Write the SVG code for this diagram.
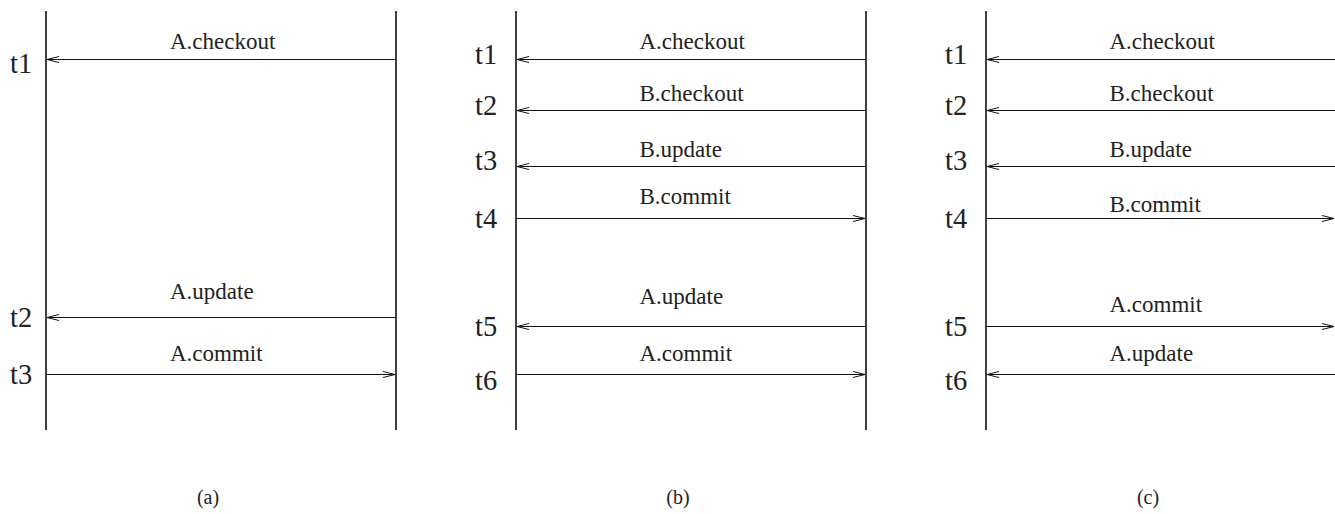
<svg xmlns="http://www.w3.org/2000/svg" width="1335" height="514" viewBox="0 0 1335 514" font-family="'Liberation Serif', 'DejaVu Serif', serif">
  <style>
    .life { stroke: #111; stroke-width: 1.6; fill: none; }
    .msg { stroke: #111; stroke-width: 1.1; fill: none; marker-end: url(#head); }
    text { font-family: "Liberation Serif", "DejaVu Serif", serif; fill: #222; }
    .lbl { font-size: 23px; }
    .time { font-size: 28.5px; }
    .cap { font-size: 20px; text-anchor: middle; }
  </style>
  <defs>
    <marker id="head" markerUnits="userSpaceOnUse" markerWidth="14" markerHeight="8" viewBox="-13 -4 14 8" refX="0" refY="0" orient="auto" overflow="visible">
      <path d="M-12,-3 L0,0 L-12,3" fill="none" stroke="#111" stroke-width="1"/>
    </marker>
  </defs>

  <rect width="1335" height="514" fill="#fff"/>

  <!-- panel (a) -->
  <g id="panel-a">
    <g id="a-client"><line class="life" x1="46" y1="11" x2="46" y2="430"/></g>
    <g id="a-server"><line class="life" x1="396" y1="11" x2="396" y2="430"/></g>
    <g id="a-times">
      <text class="time" x="10" y="72.5">t1</text>
      <text class="time" x="10" y="327">t2</text>
      <text class="time" x="10" y="384">t3</text>
    </g>
    <g id="a-connectors">
      <line class="msg" x1="396" y1="59.5" x2="47" y2="59.5"/>
      <line class="msg" x1="396" y1="317.5" x2="47" y2="317.5"/>
      <line class="msg" x1="46" y1="374.5" x2="395" y2="374.5"/>
    </g>
    <g id="a-labels">
      <text class="lbl" x="170" y="49">A.checkout</text>
      <text class="lbl" x="170" y="299">A.update</text>
      <text class="lbl" x="170" y="360.5">A.commit</text>
    </g>
    <text class="cap" x="208" y="504">(a)</text>
  </g>

  <!-- panel (b) -->
  <g id="panel-b">
    <g id="b-client"><line class="life" x1="516" y1="11" x2="516" y2="430"/></g>
    <g id="b-server"><line class="life" x1="866" y1="11" x2="866" y2="430"/></g>
    <g id="b-times">
      <text class="time" x="475" y="63.5">t1</text>
      <text class="time" x="475" y="115">t2</text>
      <text class="time" x="475" y="170">t3</text>
      <text class="time" x="475" y="227.5">t4</text>
      <text class="time" x="475" y="336">t5</text>
      <text class="time" x="475" y="390">t6</text>
    </g>
    <g id="b-connectors">
      <line class="msg" x1="866" y1="59.5" x2="517" y2="59.5"/>
      <line class="msg" x1="866" y1="110.5" x2="517" y2="110.5"/>
      <line class="msg" x1="866" y1="166.5" x2="517" y2="166.5"/>
      <line class="msg" x1="516" y1="218.5" x2="865" y2="218.5"/>
      <line class="msg" x1="866" y1="326.5" x2="517" y2="326.5"/>
      <line class="msg" x1="516" y1="374.5" x2="865" y2="374.5"/>
    </g>
    <g id="b-labels">
      <text class="lbl" x="639.5" y="49">A.checkout</text>
      <text class="lbl" x="639.5" y="101">B.checkout</text>
      <text class="lbl" x="639.5" y="157">B.update</text>
      <text class="lbl" x="639.5" y="204">B.commit</text>
      <text class="lbl" x="639.5" y="303.5">A.update</text>
      <text class="lbl" x="639.5" y="360.5">A.commit</text>
    </g>
    <text class="cap" x="678" y="504">(b)</text>
  </g>

  <!-- panel (c) -->
  <g id="panel-c">
    <g id="c-client"><line class="life" x1="986" y1="11" x2="986" y2="430"/></g>
    <g id="c-times">
      <text class="time" x="945" y="63.5">t1</text>
      <text class="time" x="945" y="115">t2</text>
      <text class="time" x="945" y="170">t3</text>
      <text class="time" x="945" y="227.5">t4</text>
      <text class="time" x="945" y="336">t5</text>
      <text class="time" x="945" y="390">t6</text>
    </g>
    <g id="c-connectors">
      <line class="msg" x1="1335" y1="59.5" x2="987" y2="59.5"/>
      <line class="msg" x1="1335" y1="110.5" x2="987" y2="110.5"/>
      <line class="msg" x1="1335" y1="166.5" x2="987" y2="166.5"/>
      <line class="msg" x1="986" y1="218.5" x2="1334" y2="218.5"/>
      <line class="msg" x1="986" y1="326.5" x2="1334" y2="326.5"/>
      <line class="msg" x1="1335" y1="374.5" x2="987" y2="374.5"/>
    </g>
    <g id="c-labels">
      <text class="lbl" x="1109.5" y="49">A.checkout</text>
      <text class="lbl" x="1109.5" y="101">B.checkout</text>
      <text class="lbl" x="1109.5" y="157">B.update</text>
      <text class="lbl" x="1109.5" y="212">B.commit</text>
      <text class="lbl" x="1109.5" y="312">A.commit</text>
      <text class="lbl" x="1109.5" y="360.5">A.update</text>
    </g>
    <text class="cap" x="1148" y="504">(c)</text>
  </g>
</svg>
